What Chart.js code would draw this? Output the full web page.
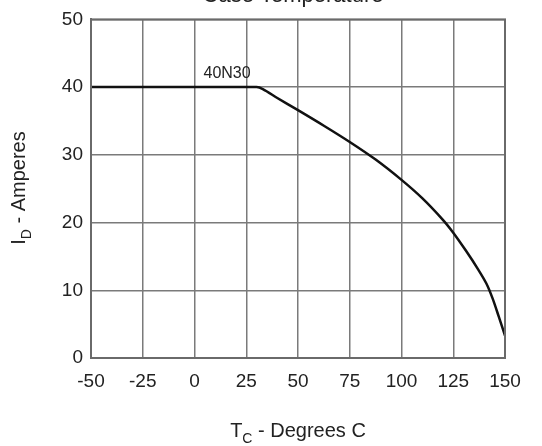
<!DOCTYPE html>
<html>
<head>
<meta charset="utf-8">
<script src="https://cdn.jsdelivr.net/npm/chart.js@4.4.0/dist/chart.umd.min.js"></script>
<style>
  html, body { margin: 0; padding: 0; background: #fff; overflow: hidden; }
  #wrap { width: 542px; height: 446px; }
</style>
</head>
<body>
<div id="wrap"><canvas id="derating"></canvas></div>
<script>
// case temperature (deg C) and drain current (A)
const caseTemp = [-50, 30, 33, 40, 50, 62.5, 75, 87.5, 100, 110, 120, 125, 131, 137, 141, 144, 147, 150];
const drainCurrent = [40, 40, 39.7, 38.4, 36.6, 34.3, 31.9, 29.3, 26.3, 23.6, 20.4, 18.5, 15.9, 13.1, 11, 8.8, 6.1, 3.3];
const xTicks = [-50, -25, 0, 25, 50, 75, 100, 125, 150];
const yTicks = [0, 10, 20, 30, 40, 50];
const partLabel = '40N30';

document.addEventListener("DOMContentLoaded", () => {
  const ctx = document.getElementById("derating").getContext('2d')
  const font = "Liberation Sans";
  const ink = '#222';

  // titles with subscripts, drawn by hand
  const labels = {
    id: 'labels',
    afterDraw: (chart) => {
      const c = chart.ctx, a = chart.chartArea;
      c.save();
      c.fillStyle = ink;
      c.textBaseline = 'alphabetic';

      // cut-off top title
      c.font = "22px " + font;
      c.textAlign = 'center';
      c.fillText('Case Temperature', 293, 2);

      // part number above the flat part
      const xs = chart.scales.x, ys = chart.scales.y;
      c.font = "16px " + font;
      c.textAlign = 'left';
      c.fillText(partLabel, xs.getPixelForValue(0) + 9, ys.getPixelForValue(40) - 9);

      const drawSub = (main, sub, rest, size) => {
        c.font = size + "px " + font;
        const w1 = c.measureText(main).width;
        c.font = Math.round(size * 0.7) + "px " + font;
        const w2 = c.measureText(sub).width;
        c.font = size + "px " + font;
        const w3 = c.measureText(rest).width;
        let x = -(w1 + w2 + w3) / 2;
        c.textAlign = 'left';
        c.fillText(main, x, 0);
        c.font = Math.round(size * 0.7) + "px " + font;
        c.fillText(sub, x + w1, size * 0.3);
        c.font = size + "px " + font;
        c.fillText(rest, x + w1 + w2, 0);
      };
      // x title: T_C - Degrees C
      c.save();
      c.translate((a.left + a.right) / 2, 437);
      drawSub('T', 'C', ' - Degrees C', 20);
      c.restore();

      // y title: I_D - Amperes
      c.save();
      c.translate(25, 188);
      c.rotate(-Math.PI / 2);
      drawSub('I', 'D', ' - Amperes', 20);
      c.restore();

      c.restore();
    }
  };

  new Chart(ctx, {
    type: 'line',
    data: {
      datasets: [{
        label: partLabel,
        data: caseTemp.map((t, i) => ({ x: t, y: drainCurrent[i] })),
        borderColor: '#111',
        borderWidth: 2.5,
        pointRadius: 0,
        tension: 0.3,
        borderJoinStyle: 'round',
        fill: false
      }]
    },
    options: {
      responsive: true,
      maintainAspectRatio: false,
      animation: false,
      layout: { padding: { top: 19, right: 37, left: 0, bottom: 0 } },
      plugins: {
        legend: { display: false },
        tooltip: { enabled: false }
      },
      scales: {
        x: {
          type: 'linear',
          min: -50,
          max: 150,
          afterBuildTicks: (s) => { s.ticks = xTicks.map(v => ({ value: v })); },
          afterFit: (s) => { s.height = 88; },
          grid: { color: '#7a7a7a', lineWidth: 1.5, drawTicks: false },
          border: { color: '#6a6a6a', width: 2 },
          ticks: { color: ink, font: { family: font, size: 19 }, padding: 12, maxRotation: 0 }
        },
        y: {
          min: 0,
          max: 50,
          afterBuildTicks: (s) => { s.ticks = yTicks.map(v => ({ value: v })); },
          afterFit: (s) => { s.width = 91; },
          grid: { color: '#7a7a7a', lineWidth: 1.5, drawTicks: false },
          border: { color: '#6a6a6a', width: 2 },
          ticks: { color: ink, font: { family: font, size: 19 }, padding: 8 }
        }
      }
    },
    plugins: [labels, {
      id: 'frame',
      afterDatasetsDraw: (chart) => {
        const c = chart.ctx, a = chart.chartArea;
        c.save();
        c.strokeStyle = '#6a6a6a';
        c.lineWidth = 2;
        c.strokeRect(a.left, a.top, a.right - a.left, a.bottom - a.top);
        c.restore();
      }
    }]
  })
});
</script>
</body>
</html>
